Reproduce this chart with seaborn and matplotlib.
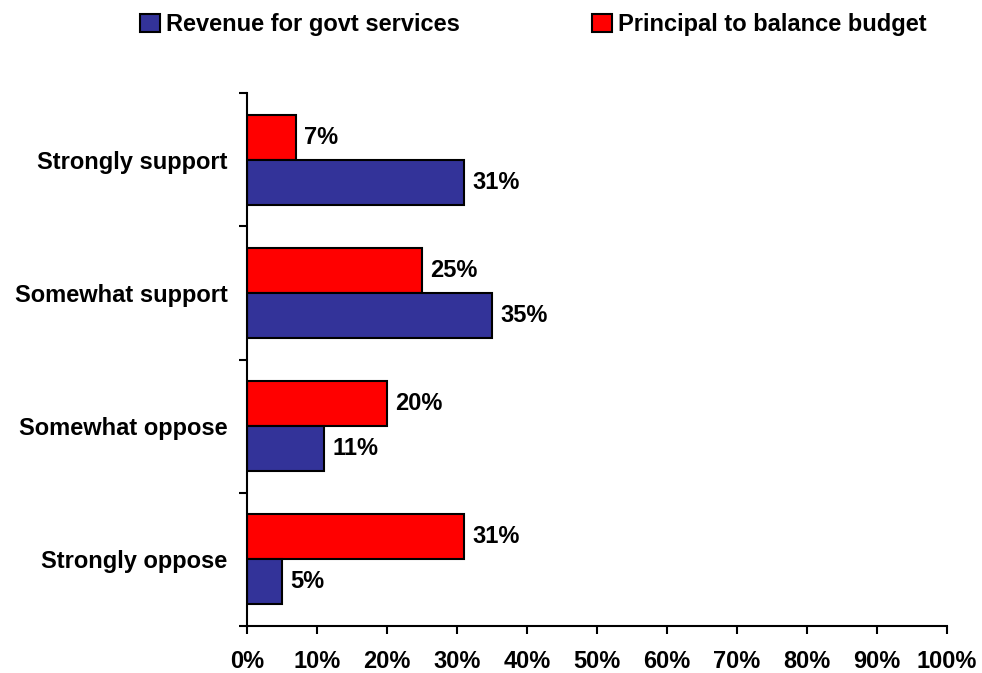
import matplotlib
matplotlib.use("Agg")
import matplotlib.pyplot as plt
from matplotlib.patches import Patch
from matplotlib.ticker import FuncFormatter
import seaborn as sns
import pandas as pd

categories = ["Strongly support", "Somewhat support", "Somewhat oppose", "Strongly oppose"]
series_names = ["Principal to balance budget", "Revenue for govt services"]
principal_vals = [7, 25, 20, 31]
revenue_vals = [31, 35, 11, 5]
colors = {"Principal to balance budget": "#FF0000", "Revenue for govt services": "#333399"}
x_ticks = list(range(0, 101, 10))

df = pd.DataFrame({
    "category": categories * 2,
    "series": [series_names[0]] * 4 + [series_names[1]] * 4,
    "value": principal_vals + revenue_vals,
})

sns.set_theme(style="white")
plt.rcParams["font.family"] = ["Liberation Sans", "DejaVu Sans"]
plt.rcParams["font.weight"] = "bold"
plt.rcParams["text.color"] = "black"
plt.rcParams["xtick.color"] = "black"
plt.rcParams["ytick.color"] = "black"
plt.rcParams["xtick.labelcolor"] = "black"
plt.rcParams["ytick.labelcolor"] = "black"

FS = 17

fig = plt.figure(figsize=(9.82, 6.73), dpi=100)
ax = fig.add_axes([0.2515, 0.0698, 0.7129, 0.792])

sns.barplot(data=df, x="value", y="category", hue="series", order=categories,
            hue_order=series_names, palette=colors, orient="h", width=0.675,
            edgecolor="black", linewidth=1.5, saturation=1, legend=False, ax=ax)

for cont in ax.containers:
    ax.bar_label(cont, labels=[f"{v:.0f}%" for v in cont.datavalues], padding=6,
                 fontsize=FS, fontweight="bold", color="black")

ax.set_xlim(0, 100)
ax.set_ylim(3.5, -0.5)
ax.set_xticks(x_ticks)
ax.xaxis.set_major_formatter(FuncFormatter(lambda v, p: f"{v:.0f}%"))
ax.set_yticks([-0.5, 0.5, 1.5, 2.5, 3.5])
ax.set_yticklabels([])
ax.set_yticks(range(len(categories)), minor=True)
ax.set_yticklabels(categories, minor=True)
ax.tick_params(axis="y", which="major", direction="out", length=6, width=1.5, color="black", left=True)
ax.tick_params(axis="y", which="minor", length=0, pad=14, labelsize=FS, labelcolor="black")
ax.tick_params(axis="x", direction="out", length=6, width=1.5, color="black", bottom=True,
               pad=11, labelsize=FS, labelcolor="black")
for lab in ax.get_xticklabels() + ax.get_yticklabels(minor=True):
    lab.set_fontweight("bold")
ax.set_xlabel("")
ax.set_ylabel("")
for side in ["top", "right"]:
    ax.spines[side].set_visible(False)
for side in ["left", "bottom"]:
    ax.spines[side].set_color("black")
    ax.spines[side].set_linewidth(1.5)
ax.grid(False)

handles = [Patch(facecolor=colors["Revenue for govt services"], edgecolor="black", linewidth=1.5),
           Patch(facecolor=colors["Principal to balance budget"], edgecolor="black", linewidth=1.5)]
fig.legend(handles, ["Revenue for govt services", "Principal to balance budget"],
           loc="upper center", bbox_to_anchor=(0.543, 1.012), ncol=2, frameon=False,
           handlelength=0.85, handleheight=0.85, handletextpad=0.25, columnspacing=5.6,
           prop={"size": FS, "weight": "bold"})

fig.savefig("out.png", dpi=100, facecolor="white")
